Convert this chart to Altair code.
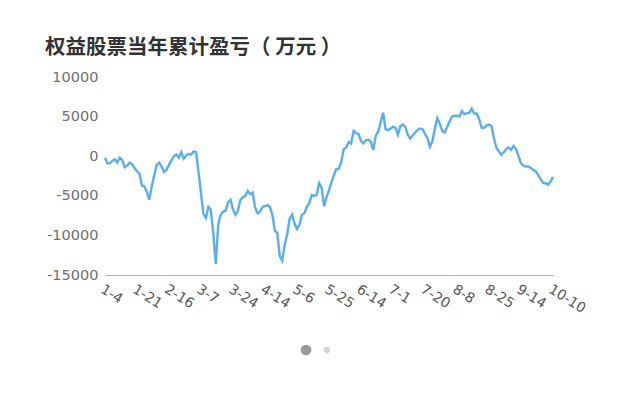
import altair as alt
import pandas as pd

# Cumulative P&L (10k CNY), one value per trading day (index 0..182)
pnl = [
    -200, -900, -900, -600, -400, -800, -200, -500, -1400, -1200,
    -800, -1000, -1500, -1900, -2200, -3700, -3800, -4500, -5500, -3800,
    -2400, -1100, -800, -1300, -2000, -1700, -1100, -500, 0, 200,
    -200, 500, -300, 100, 300, 200, 600, 500, -2000, -4700,
    -7300, -7800, -6400, -6800, -9800, -13600, -8600, -7400, -7000, -6900,
    -5800, -5500, -6700, -7400, -6900, -5500, -5200, -5000, -4400, -4800,
    -4600, -6500, -7200, -7000, -6400, -6300, -6200, -6400, -7400, -9400,
    -9700, -12600, -13200, -11200, -9900, -7900, -7400, -8500, -9200, -8700,
    -7400, -7200, -6400, -5900, -4900, -5000, -4900, -3400, -4000, -6300,
    -5200, -4300, -3300, -2400, -1600, -1600, -700, 900, 1100, 1800,
    1600, 3200, 2900, 2800, 1900, 1600, 2000, 2100, 1800, 800,
    2600, 3100, 4300, 5500, 3400, 3300, 3500, 3700, 3600, 2700,
    3800, 4000, 3700, 2700, 2200, 2600, 3000, 3300, 3500, 3400,
    2800, 2300, 1200, 1900, 3500, 4800, 4100, 3200, 3000, 3700,
    4400, 5000, 5100, 5100, 5000, 5700, 5300, 5400, 5500, 6000,
    5400, 5400, 4700, 3600, 3600, 3900, 4000, 3800, 2300, 1100,
    600, 200, 500, 900, 1100, 800, 1300, 900, 0, -900,
    -1200, -1300, -1300, -1500, -1700, -1900, -2400, -2900, -3400, -3400,
    -3600, -3200, -2600,
]
tick_labels = ["1-4", "1-21", "2-16", "3-7", "3-24", "4-14", "5-6", "5-25",
               "6-14", "7-1", "7-20", "8-8", "8-25", "9-14", "10-10"]
tick_step = 13
y_ticks = [-15000, -10000, -5000, 0, 5000, 10000]

df = pd.DataFrame({"day": list(range(len(pnl))), "pnl": pnl})

label_array = "[" + ",".join("'" + t + "'" for t in tick_labels) + "]"
x_values = [i * tick_step for i in range(len(tick_labels))]

line = alt.Chart(df).mark_line(color="#5aaef0", strokeWidth=2.4, interpolate="linear").encode(
    x=alt.X("day:Q",
            scale=alt.Scale(domain=[0, len(pnl) - 1], nice=False, zero=False),
            axis=alt.Axis(values=x_values,
                          labelExpr=label_array + "[round(datum.value/" + str(tick_step) + ")]",
                          title=None, grid=False, ticks=False,
                          domainColor="#b0b0b0", domainWidth=1,
                          labelAngle=32, labelAlign="left", labelBaseline="top",
                          labelPadding=7, labelFont="DejaVu Sans", labelFontSize=14,
                          labelColor="#555555", labelOverlap=False, labelBound=False,
                          labelFlush=False)),
    y=alt.Y("pnl:Q",
            scale=alt.Scale(domain=[-15000, 10000], nice=False, zero=False),
            axis=alt.Axis(values=y_ticks, labelExpr="'' + datum.value",
                          title=None, grid=False, ticks=False, domain=False,
                          labelPadding=7, labelFont="DejaVu Sans", labelFontSize=14.5,
                          labelColor="#707070")),
)

dot_active = alt.Chart(df.head(1)).mark_circle(color="#9a9a9a", opacity=1, size=115).encode(
    x=alt.value(201), y=alt.value(273))
dot_idle = alt.Chart(df.head(1)).mark_circle(color="#d4d4d4", opacity=1, size=40).encode(
    x=alt.value(222), y=alt.value(273))

chart = alt.layer(line, dot_active, dot_idle).properties(
    width=448, height=198,
    padding={"left": 97, "top": 69, "right": 75, "bottom": 117},
    autosize=alt.AutoSizeParams(type="none"),
    title=alt.TitleParams("权益股票当年累计盈亏（ 万元 ）", anchor="start", frame="group",
                          font="Noto Sans CJK SC", fontSize=20.5, fontWeight="bold",
                          color="#333333", dx=-60, offset=11),
).configure(background="white").configure_view(stroke=None)

chart.save("out.html", embed_options={"renderer": "svg", "actions": False})
